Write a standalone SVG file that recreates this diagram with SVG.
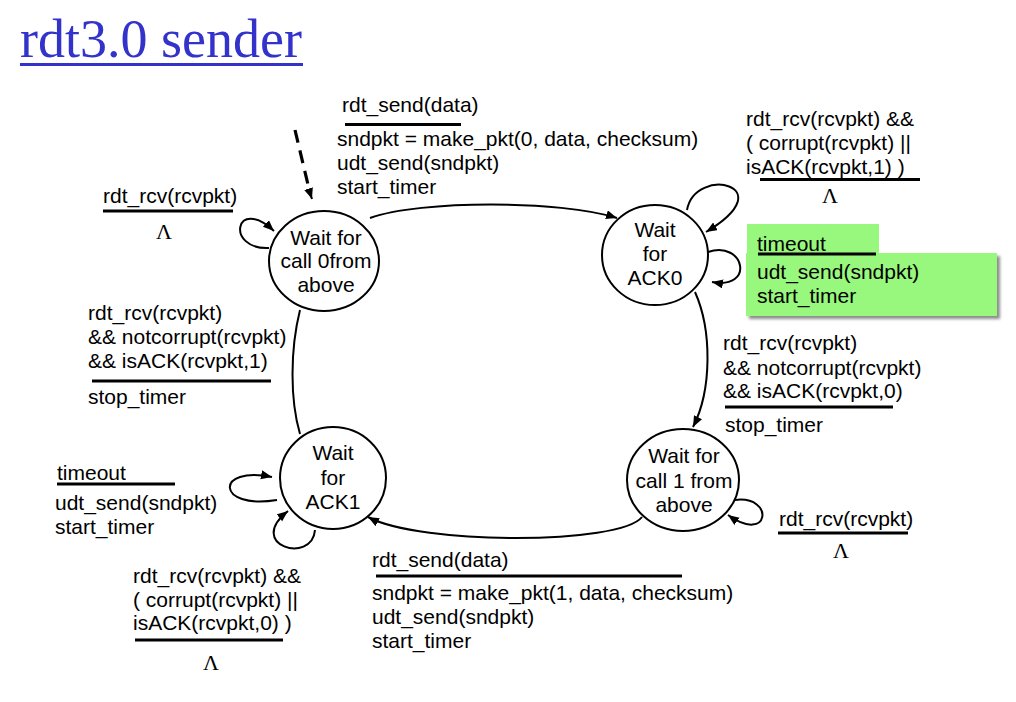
<svg xmlns="http://www.w3.org/2000/svg" width="1016" height="702" viewBox="0 0 1016 702">
<style>
.t{font-family:"Liberation Sans",Arial,sans-serif;font-size:21px;fill:#000}
.c{font-family:"Liberation Sans",Arial,sans-serif;font-size:21px;fill:#000;text-anchor:middle}
.lam{font-family:"Liberation Serif","Times New Roman",serif;font-size:22px;fill:#000;text-anchor:middle}
.bar{stroke:#000;stroke-width:3}
.st{fill:#fff;stroke:#000;stroke-width:2}
.e{fill:none;stroke:#000;stroke-width:2}
.d{fill:none;stroke:#000;stroke-width:3.2;stroke-dasharray:13,8}
</style>
<defs>
<marker id="ah" markerUnits="userSpaceOnUse" markerWidth="12" markerHeight="10" refX="11" refY="4.5" orient="auto">
<path d="M0,0 L11,4.5 L0,9 z" fill="#000"/>
</marker>
<filter id="sh" x="-5%" y="-10%" width="115%" height="130%">
<feGaussianBlur in="SourceAlpha" stdDeviation="1.5"/>
<feOffset dx="3" dy="3" result="b"/>
<feFlood flood-color="#000" flood-opacity="0.45"/>
<feComposite in2="b" operator="in"/>
<feMerge><feMergeNode/><feMergeNode in="SourceGraphic"/></feMerge>
</filter>
</defs>
<rect width="1016" height="702" fill="#fff"/>
<g id="title">
<text x="20" y="57" style="font-family:'Liberation Serif','Times New Roman',serif;font-size:54px;fill:#3333cc">rdt3.0 sender</text>
<line x1="20" y1="64.5" x2="303" y2="64.5" stroke="#3333cc" stroke-width="2.8"/>
</g>
<g id="connectors">
<path d="M295,130 L310,193" class="d"/>
<path d="M309,190 L312,199" class="e" marker-end="url(#ah)"/>
<path d="M370,218 C420,200 560,200 617,218" class="e" marker-end="url(#ah)"/>
<path d="M695,292 C712,330 712,390 693,427" class="e" marker-end="url(#ah)"/>
<path d="M642,517 C620,545 420,545 368,517" class="e" marker-end="url(#ah)"/>
<path d="M300,434 C290,400 290,350 300,310" class="e"/>
<path d="M269,248 C225,250 235,195 274,231" class="e" marker-end="url(#ah)"/>
<path d="M687,210 C695,165 785,185 706,232" class="e" marker-end="url(#ah)"/>
<path d="M708,252 C745,240 755,290 712,282" class="e" marker-end="url(#ah)"/>
<path d="M277,500 C215,510 215,465 272,477" class="e" marker-end="url(#ah)"/>
<path d="M315,530 C312,565 245,545 288,511" class="e" marker-end="url(#ah)"/>
<path d="M735,500 C775,495 770,545 728,515" class="e" marker-end="url(#ah)"/>
</g>
<g id="state-call0">
<ellipse cx="324" cy="261" rx="55" ry="50" class="st"/>
<text class="c" x="326" y="245">Wait for</text>
<text class="c" x="326" y="268">call 0from</text>
<text class="c" x="326" y="292">above</text>
</g>
<g id="state-ack0">
<ellipse cx="655" cy="255" rx="53" ry="50" class="st"/>
<text class="c" x="655" y="237">Wait</text>
<text class="c" x="655" y="261">for</text>
<text class="c" x="655" y="285">ACK0</text>
</g>
<g id="state-ack1">
<ellipse cx="333" cy="478" rx="53" ry="51" class="st"/>
<text class="c" x="333" y="460">Wait</text>
<text class="c" x="333" y="485">for</text>
<text class="c" x="333" y="509">ACK1</text>
</g>
<g id="state-call1">
<ellipse cx="683" cy="480" rx="56" ry="51" class="st"/>
<text class="c" x="684" y="463">Wait for</text>
<text class="c" x="684" y="488">call 1 from</text>
<text class="c" x="684" y="512">above</text>
</g>
<g id="label-top">
<text class="t" x="342" y="112">rdt_send(data)</text>
<line class="bar" x1="345" y1="124.5" x2="461" y2="124.5"/>
<text class="t" x="337" y="146">sndpkt = make_pkt(0, data, checksum)</text>
<text class="t" x="337" y="170">udt_send(sndpkt)</text>
<text class="t" x="337" y="194">start_timer</text>
</g>
<g id="label-topright">
<text class="t" x="746" y="126">rdt_rcv(rcvpkt) &amp;&amp;</text>
<text class="t" x="746" y="150">( corrupt(rcvpkt) ||</text>
<text class="t" x="746" y="174">isACK(rcvpkt,1) )</text>
<line class="bar" x1="760" y1="179.5" x2="920" y2="179.5"/>
<text class="lam" x="830" y="203">Λ</text>
</g>
<g id="label-timeout0">
<rect x="747" y="224" width="132" height="31" fill="#98f77d"/>
<rect x="746" y="253" width="251" height="63" fill="#98f77d" filter="url(#sh)"/>
<text class="t" x="757" y="251">timeout</text>
<line class="bar" x1="758" y1="254" x2="876" y2="254"/>
<text class="t" x="757" y="279">udt_send(sndpkt)</text>
<text class="t" x="757" y="303">start_timer</text>
</g>
<g id="label-topleft">
<text class="t" x="103" y="203">rdt_rcv(rcvpkt)</text>
<line class="bar" x1="103" y1="211" x2="233" y2="211"/>
<text class="lam" x="164" y="239">Λ</text>
</g>
<g id="label-left">
<text class="t" x="88" y="320">rdt_rcv(rcvpkt)</text>
<text class="t" x="88" y="344">&amp;&amp; notcorrupt(rcvpkt)</text>
<text class="t" x="88" y="368">&amp;&amp; isACK(rcvpkt,1)</text>
<line class="bar" x1="92" y1="381" x2="271" y2="381"/>
<text class="t" x="88" y="404">stop_timer</text>
</g>
<g id="label-timeout1">
<text class="t" x="57" y="480">timeout</text>
<line class="bar" x1="57" y1="484" x2="175" y2="484"/>
<text class="t" x="55" y="510">udt_send(sndpkt)</text>
<text class="t" x="55" y="534">start_timer</text>
</g>
<g id="label-bottomleft">
<text class="t" x="133" y="583">rdt_rcv(rcvpkt) &amp;&amp;</text>
<text class="t" x="133" y="607">( corrupt(rcvpkt) ||</text>
<text class="t" x="133" y="630">isACK(rcvpkt,0) )</text>
<line class="bar" x1="135" y1="640" x2="283" y2="640"/>
<text class="lam" x="211" y="670">Λ</text>
</g>
<g id="label-bottom">
<text class="t" x="372" y="567">rdt_send(data)</text>
<line class="bar" x1="376" y1="576" x2="682" y2="576"/>
<text class="t" x="372" y="600">sndpkt = make_pkt(1, data, checksum)</text>
<text class="t" x="372" y="624">udt_send(sndpkt)</text>
<text class="t" x="372" y="648">start_timer</text>
</g>
<g id="label-right">
<text class="t" x="723" y="350">rdt_rcv(rcvpkt)</text>
<text class="t" x="723" y="375">&amp;&amp; notcorrupt(rcvpkt)</text>
<text class="t" x="723" y="398">&amp;&amp; isACK(rcvpkt,0)</text>
<line class="bar" x1="725" y1="407" x2="893" y2="407"/>
<text class="t" x="725" y="432">stop_timer</text>
</g>
<g id="label-bottomright">
<text class="t" x="779" y="526">rdt_rcv(rcvpkt)</text>
<line class="bar" x1="778" y1="533" x2="908" y2="533"/>
<text class="lam" x="841" y="558">Λ</text>
</g>
</svg>
